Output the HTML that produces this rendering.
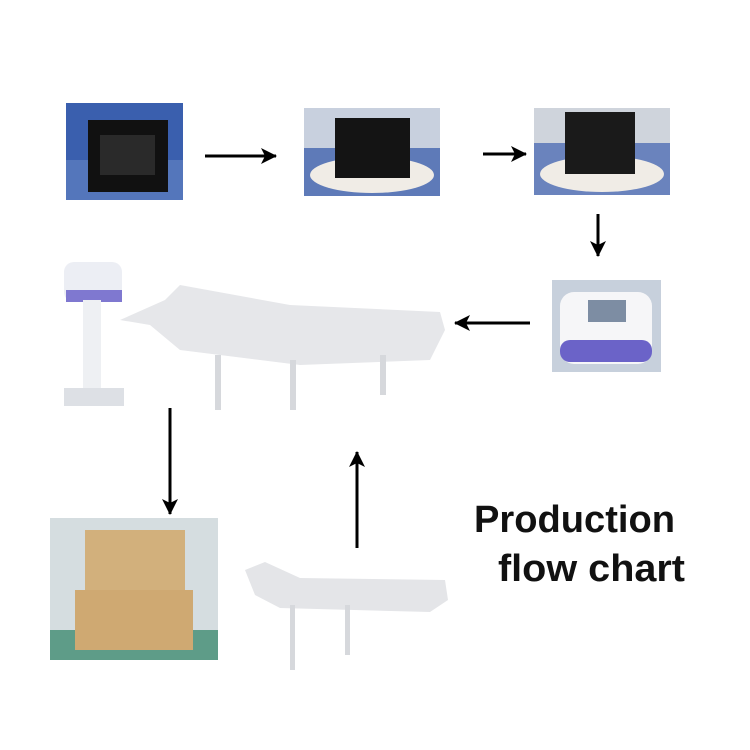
<!DOCTYPE html>
<html><head><style>
html,body{margin:0;padding:0;background:#fff;width:750px;height:750px;overflow:hidden}
</style></head><body>
<svg width="750" height="750" viewBox="0 0 750 750" xmlns="http://www.w3.org/2000/svg">
<defs>
<marker id="ah2" markerWidth="18" markerHeight="18" refX="15" refY="8" orient="auto" markerUnits="userSpaceOnUse"><path d="M0,0 L16,8 L0,16 L4,8 Z" fill="#000"/></marker>
</defs>
<rect x="66" y="103" width="117" height="97" fill="#3a5fae"/>
<rect x="66" y="160" width="117" height="40" fill="#5476bb"/>
<rect x="88" y="120" width="80" height="72" fill="#111"/>
<rect x="100" y="135" width="55" height="40" fill="#2a2a2a"/>
<line x1="205" y1="156" x2="276" y2="156" stroke="#000" stroke-width="3" marker-end="url(#ah2)"/>
<rect x="304" y="108" width="136" height="88" fill="#5e7ab8"/>
<rect x="304" y="108" width="136" height="40" fill="#c8d0de"/>
<ellipse cx="372" cy="175" rx="62" ry="18" fill="#f0ece6"/>
<rect x="335" y="118" width="75" height="60" fill="#141414"/>
<line x1="483" y1="154" x2="526" y2="154" stroke="#000" stroke-width="3" marker-end="url(#ah2)"/>
<rect x="534" y="108" width="136" height="87" fill="#6a83bd"/>
<rect x="534" y="108" width="136" height="35" fill="#cfd4dc"/>
<ellipse cx="602" cy="174" rx="62" ry="18" fill="#f0ece6"/>
<rect x="565" y="112" width="70" height="62" fill="#1a1a1a"/>
<line x1="598" y1="214" x2="598" y2="256" stroke="#000" stroke-width="3" marker-end="url(#ah2)"/>
<rect x="552" y="280" width="109" height="92" fill="#c7d0dc"/>
<rect x="560" y="292" width="92" height="72" rx="14" fill="#f6f6f8"/>
<rect x="560" y="340" width="92" height="22" rx="10" fill="#6b63c8"/>
<rect x="588" y="300" width="38" height="22" fill="#7d8da3"/>
<line x1="530" y1="323" x2="455" y2="323" stroke="#000" stroke-width="3" marker-end="url(#ah2)"/>
<rect x="64" y="262" width="58" height="40" rx="10" fill="#eceef4"/>
<rect x="66" y="290" width="56" height="12" fill="#7f78d0"/>
<rect x="83" y="300" width="18" height="90" fill="#eef0f3"/>
<rect x="64" y="388" width="60" height="18" fill="#dde0e5"/>
<path d="M120,320 L165,300 L180,285 L290,305 L440,312 L445,330 L430,360 L300,365 L180,350 L150,325 Z" fill="#e6e7ea"/>
<rect x="215" y="355" width="6" height="55" fill="#d6d8dc"/>
<rect x="290" y="360" width="6" height="50" fill="#d6d8dc"/>
<rect x="380" y="355" width="6" height="40" fill="#d6d8dc"/>
<line x1="170" y1="408" x2="170" y2="514" stroke="#000" stroke-width="3" marker-end="url(#ah2)"/>
<rect x="50" y="518" width="168" height="142" fill="#d5dde0"/>
<rect x="50" y="630" width="168" height="30" fill="#5e9c88"/>
<rect x="85" y="530" width="100" height="60" fill="#d2b07c"/>
<rect x="75" y="590" width="118" height="60" fill="#cfa972"/>
<line x1="357" y1="548" x2="357" y2="452" stroke="#000" stroke-width="3" marker-end="url(#ah2)"/>
<path d="M245,570 L265,562 L300,578 L445,580 L448,600 L430,612 L280,608 L255,595 Z" fill="#e4e5e8"/>
<rect x="290" y="605" width="5" height="65" fill="#d6d8dc"/>
<rect x="345" y="605" width="5" height="50" fill="#d6d8dc"/>
<text x="474" y="532" font-family="Liberation Sans, sans-serif" font-weight="bold" font-size="38" fill="#111" textLength="201" lengthAdjust="spacingAndGlyphs">Production</text>
<text x="498" y="581" font-family="Liberation Sans, sans-serif" font-weight="bold" font-size="38" fill="#111" textLength="187" lengthAdjust="spacingAndGlyphs">flow chart</text>
</svg>
</body></html>
